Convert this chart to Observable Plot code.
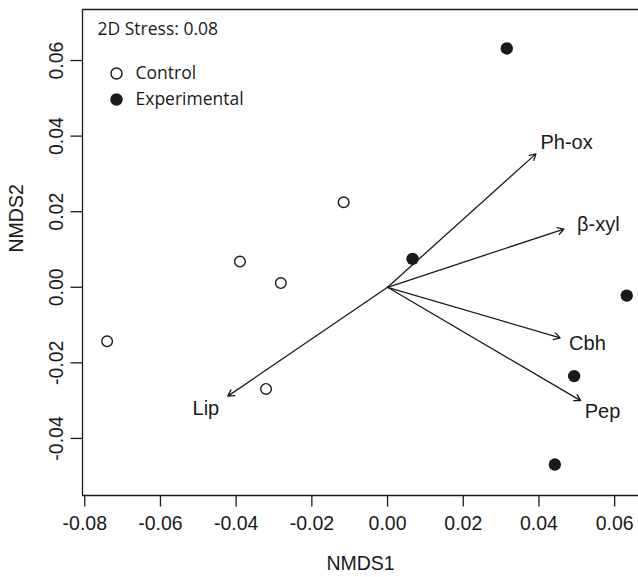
<!DOCTYPE html>
<html><head><meta charset="utf-8">
<script src="https://cdn.jsdelivr.net/npm/d3@7"></script>
<script src="https://cdn.jsdelivr.net/npm/@observablehq/plot@0.6"></script>
<style>body{margin:0;background:#fff;} #chart svg{display:block;}</style>
</head><body><div id="chart"></div>
<script>
// Site scores (NMDS)
const controlX = [-0.0741, -0.0390, -0.0282, -0.0116, -0.0321];
const controlY = [-0.0143, 0.0068, 0.0011, 0.0225, -0.0269];
const expX = [0.0315, 0.0066, 0.0632, 0.0493, 0.0442];
const expY = [0.0632, 0.0075, -0.0022, -0.0235, -0.0469];
// Enzyme vectors (envfit)
const vectorNames = ["Ph-ox", "β-xyl", "Cbh", "Pep", "Lip"];
const vectorX = [0.0392, 0.0466, 0.0456, 0.0510, -0.0422];
const vectorY = [0.0353, 0.0154, -0.0134, -0.0300, -0.0288];
const labelX = [0.0473, 0.0557, 0.0528, 0.0568, -0.0480];
const labelY = [0.0384, 0.0166, -0.0148, -0.0330, -0.0322];
// Axes
const xTicks = [-0.08, -0.06, -0.04, -0.02, 0.00, 0.02, 0.04, 0.06];
const yTicks = [-0.04, -0.02, 0.00, 0.02, 0.04, 0.06];
const xDomain = [-0.0806, 0.0663];
const yDomain = [-0.0551, 0.0735];
const stressText = "2D Stress: 0.08";
const groups = ["Control", "Experimental"];

const control = controlX.map((x, i) => ({x, y: controlY[i]}));
const experimental = expX.map((x, i) => ({x, y: expY[i]}));
const vectors = vectorNames.map((name, i) => ({name, x: vectorX[i], y: vectorY[i], lx: labelX[i], ly: labelY[i]}));
const fmt = d => d.toFixed(2);
const ink = "#1a1a1a";
const legendFont = "'Open Sans', 'Noto Sans', sans-serif";
const fs = 19.5;
const legendText = {frameAnchor: "top-left", textAnchor: "start", lineAnchor: "middle", fontSize: 17.5, fontFamily: legendFont, fill: ink};

const chart = Plot.plot({
  width: 638,
  height: 577,
  marginLeft: 82,
  marginRight: 0,
  marginTop: 9,
  marginBottom: 82,
  style: {fontFamily: "'Liberation Sans', Arial, sans-serif", fontSize: fs + "px", color: ink, background: "#fff"},
  x: {domain: xDomain},
  y: {domain: yDomain},
  marks: [
    Plot.ruleY([yDomain[0], yDomain[1]], {stroke: ink, strokeWidth: 1.3}),
    Plot.ruleX([xDomain[0]], {stroke: ink, strokeWidth: 1.3}),
    Plot.axisX({ticks: xTicks, tickFormat: fmt, tickSize: 11.5, tickPadding: 9, strokeWidth: 1.3, label: null, fontSize: fs}),
    Plot.axisY({ticks: yTicks, tickFormat: fmt, tickSize: 11.5, tickPadding: 8, tickRotate: -90, strokeWidth: 1.3, label: null, fontSize: fs}),
    Plot.text(["NMDS1"], {frameAnchor: "bottom", lineAnchor: "middle", dy: 68, fontSize: fs, fill: ink}),
    Plot.text(["NMDS2"], {frameAnchor: "left", lineAnchor: "middle", dx: -66, rotate: -90, fontSize: fs, fill: ink}),
    Plot.arrow(vectors, {x1: () => 0, y1: () => 0, x2: "x", y2: "y", stroke: ink, strokeWidth: 1.3, headLength: 8}),
    Plot.text(vectors, {x: "lx", y: "ly", text: "name", fontSize: 20, fill: ink}),
    Plot.dot(control, {x: "x", y: "y", r: 5.3, stroke: ink, strokeWidth: 1.4, fill: "white"}),
    Plot.dot(experimental, {x: "x", y: "y", r: 6.2, fill: ink, stroke: "none"}),
    // Stress annotation & legend
    Plot.text([stressText], {...legendText, dx: 15, dy: 20}),
    Plot.dot([groups[0]], {frameAnchor: "top-left", dx: 34, dy: 64, r: 5.5, stroke: ink, strokeWidth: 1.4, fill: "white"}),
    Plot.dot([groups[1]], {frameAnchor: "top-left", dx: 34, dy: 90, r: 6.2, fill: ink, stroke: "none"}),
    Plot.text([groups[0]], {...legendText, dx: 53, dy: 64}),
    Plot.text([groups[1]], {...legendText, dx: 53, dy: 90})
  ]
});
document.getElementById("chart").appendChild(chart);
</script>
</body></html>
